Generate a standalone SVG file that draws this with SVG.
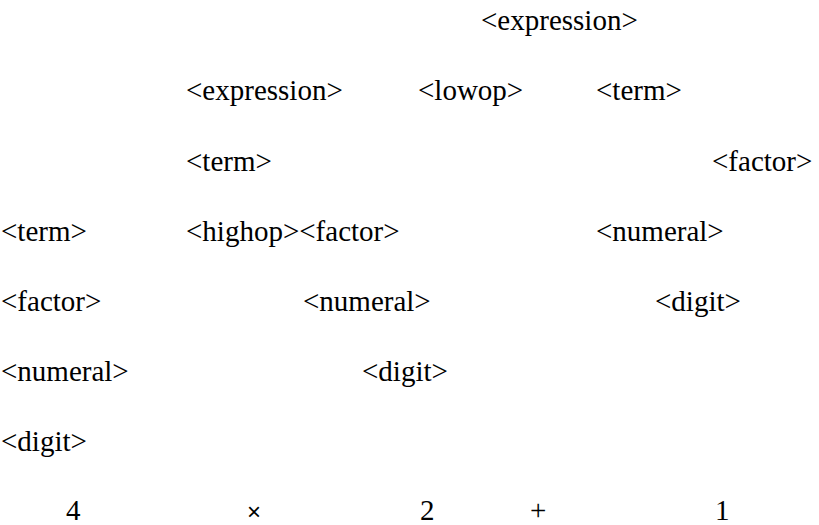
<svg xmlns="http://www.w3.org/2000/svg" width="819" height="525" viewBox="0 0 819 525">
<style>
text{font-family:"Liberation Serif","Times New Roman",serif;font-size:29px;fill:#000}
.op{font-family:"Liberation Sans",Arial,sans-serif;font-size:24px}
</style>
<rect width="819" height="525" fill="#fff"/>
<g id="connectors"></g>
<g id="n1"><text x="481" y="30">&lt;expression&gt;</text></g>
<g id="n2"><text x="186" y="100">&lt;expression&gt;</text></g>
<g id="n3"><text x="418" y="100">&lt;lowop&gt;</text></g>
<g id="n4"><text x="596" y="100">&lt;term&gt;</text></g>
<g id="n5"><text x="186" y="171">&lt;term&gt;</text></g>
<g id="n6"><text x="712" y="171">&lt;factor&gt;</text></g>
<g id="n7"><text x="1" y="241">&lt;term&gt;</text></g>
<g id="n8"><text x="186" y="241">&lt;highop&gt;&lt;factor&gt;</text></g>
<g id="n9"><text x="596" y="241">&lt;numeral&gt;</text></g>
<g id="n10"><text x="1" y="311">&lt;factor&gt;</text></g>
<g id="n11"><text x="303" y="311">&lt;numeral&gt;</text></g>
<g id="n12"><text x="655" y="311">&lt;digit&gt;</text></g>
<g id="n13"><text x="1" y="381">&lt;numeral&gt;</text></g>
<g id="n14"><text x="362" y="381">&lt;digit&gt;</text></g>
<g id="n15"><text x="1" y="451">&lt;digit&gt;</text></g>
<g id="t1"><text x="66" y="520">4</text></g>
<g id="t2"><text class="op" x="247" y="520">×</text></g>
<g id="t3"><text x="420" y="520">2</text></g>
<g id="t4"><text x="530" y="520">+</text></g>
<g id="t5"><text x="715" y="520">1</text></g>
</svg>
